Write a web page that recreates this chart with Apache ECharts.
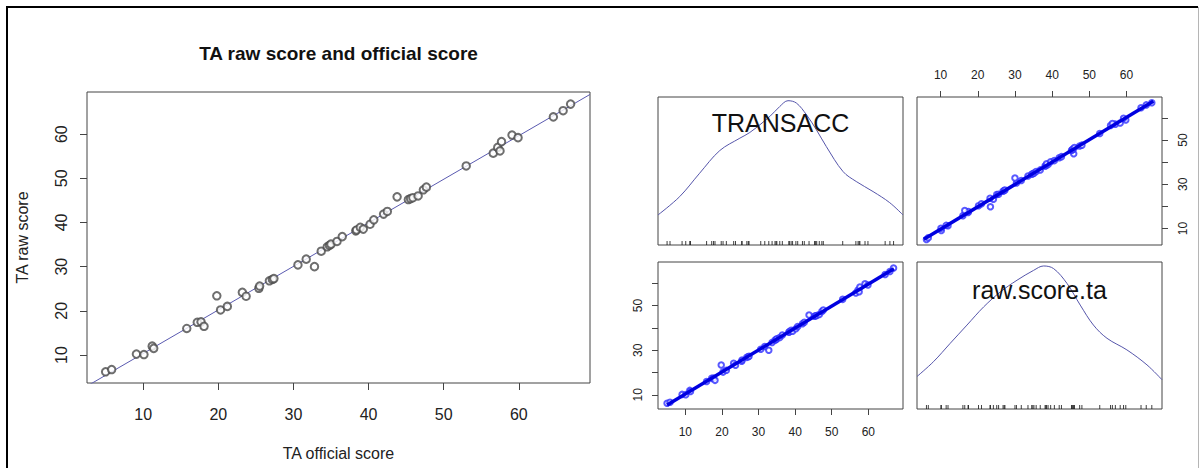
<!DOCTYPE html>
<html>
<head>
<meta charset="utf-8">
<title>TA raw score and official score</title>
<script src="https://cdn.jsdelivr.net/npm/echarts@6/dist/echarts.min.js"></script>
<style>
  html, body { margin: 0; padding: 0; background: #ffffff; }
  #main { width: 1200px; height: 468px; }
</style>
</head>
<body>
<div id="main"></div>
<script>
// Paired scores per student: official TA score and raw TA score
const officialScore = [
  5.0, 5.8, 9.1, 10.1, 11.2, 11.4, 15.8, 17.2, 17.7, 18.1,
  19.8, 20.3, 21.2, 23.2, 23.7, 25.4, 25.5, 26.8, 27.2, 27.4,
  30.6, 31.7, 32.8, 33.7, 34.5, 34.8, 35.0, 35.8, 36.5, 38.3,
  38.4, 38.9, 39.3, 40.2, 40.7, 42.0, 42.5, 43.8, 45.3, 45.6,
  45.9, 46.6, 47.3, 47.7, 53.0, 56.6, 57.2, 57.5, 57.7, 59.1,
  59.9, 64.6, 65.9, 66.9
];
const rawScore = [
  6.2, 6.7, 10.2, 10.1, 12.0, 11.5, 16.0, 17.4, 17.5, 16.5,
  23.4, 20.2, 21.0, 24.2, 23.3, 25.1, 25.6, 26.8, 27.1, 27.3,
  30.4, 31.7, 30.0, 33.5, 34.5, 34.8, 35.1, 35.7, 36.8, 38.1,
  38.3, 38.9, 38.5, 39.6, 40.6, 41.9, 42.5, 45.8, 45.2, 45.4,
  45.6, 46.0, 47.4, 48.0, 52.8, 55.7, 57.0, 56.2, 58.3, 59.8,
  59.2, 63.9, 65.3, 66.8
];

const tickValues = [10, 20, 30, 40, 50, 60];
const pairLabelValues = [10, 30, 50];
const officialRange = [2.52, 69.48];
const rawRange = [3.66, 69.54];

// Least-squares lines: raw on official, and official on raw
const rawFit = { intercept: 0.48, slope: 0.986 };
const officialFit = { intercept: -0.45, slope: 1.012 };

// Kernel density curves (relative height within the diagonal panels)
const transaccDensityX = [2.52, 8.45, 13.9, 19.4, 24.9, 27.6, 33.1, 35.8, 38.05, 40.35,
  43.1, 45.8, 48.5, 53.1, 56.7, 61.3, 65.85, 69.48];
const transaccDensity = [0.203, 0.327, 0.485, 0.638, 0.722, 0.760, 0.869, 0.936, 0.975, 0.959,
  0.880, 0.779, 0.666, 0.496, 0.429, 0.361, 0.286, 0.203];
const rawDensityX = [3.66, 8.1, 12.6, 17.1, 21.6, 26.1, 30.55, 35.0, 37.7, 40.4,
  44.0, 47.55, 51.1, 54.75, 60.1, 65.5, 69.54];
const rawDensity = [0.221, 0.322, 0.447, 0.571, 0.695, 0.797, 0.876, 0.943, 0.973, 0.955,
  0.854, 0.707, 0.571, 0.481, 0.402, 0.300, 0.199];

const FONT = '"Liberation Sans", Arial, Helvetica, sans-serif';
const BOX = '#444444';

const zip = (a, b) => a.map((v, i) => [v, b[i]]);
const fitLine = (fit, range) => range.map(x => [x, fit.intercept + fit.slope * x]);

function valueAxis(gridIndex, range, extra) {
  return Object.assign({
    type: 'value', gridIndex, min: range[0], max: range[1],
    splitLine: { show: false }, axisLine: { show: false },
    axisTick: { show: false }, axisLabel: { show: false }
  }, extra || {});
}
function ticks(len, values) {
  return { show: true, inside: false, length: len, customValues: values,
    lineStyle: { color: BOX, width: 1 } };
}
function labels(size, margin, values, rotate) {
  return { show: true, fontFamily: FONT, fontSize: size, color: '#222',
    margin, customValues: values, rotate: rotate || 0 };
}
const gridBox = { show: true, borderColor: BOX, borderWidth: 1, backgroundColor: 'transparent', containLabel: false };

const chart = echarts.init(document.getElementById('main'), null, { renderer: 'svg' });

chart.setOption({
  animation: false,
  backgroundColor: '#ffffff',
  grid: [
    Object.assign({ left: 87, top: 92, width: 503, height: 291 }, gridBox),
    Object.assign({ left: 658, top: 97, width: 245, height: 148 }, gridBox),
    Object.assign({ left: 917, top: 97, width: 245, height: 148 }, gridBox),
    Object.assign({ left: 658, top: 262, width: 245, height: 147 }, gridBox),
    Object.assign({ left: 917, top: 262, width: 245, height: 147 }, gridBox)
  ],
  xAxis: [
    valueAxis(0, officialRange, {
      position: 'bottom', axisTick: ticks(7, tickValues), axisLabel: labels(16, 23, tickValues),
      name: 'TA official score', nameLocation: 'middle', nameGap: 62,
      nameTextStyle: { fontFamily: FONT, fontSize: 16, color: '#222' }
    }),
    valueAxis(1, officialRange),
    valueAxis(2, rawRange, {
      position: 'top', axisTick: ticks(6, tickValues), axisLabel: labels(12, 16, tickValues)
    }),
    valueAxis(3, officialRange, {
      position: 'bottom', axisTick: ticks(6, tickValues), axisLabel: labels(12, 17, tickValues)
    }),
    valueAxis(4, rawRange)
  ],
  yAxis: [
    valueAxis(0, rawRange, {
      position: 'left', axisTick: ticks(7, tickValues), axisLabel: labels(16, 18, tickValues, 90),
      name: 'TA raw score', nameLocation: 'middle', nameGap: 57,
      nameTextStyle: { fontFamily: FONT, fontSize: 16, color: '#222' }
    }),
    valueAxis(1, [0, 1]),
    valueAxis(2, officialRange, {
      position: 'right', axisTick: ticks(6, tickValues), axisLabel: labels(12, 15, pairLabelValues, 90)
    }),
    valueAxis(3, rawRange, {
      position: 'left', axisTick: ticks(6, tickValues), axisLabel: labels(12, 14, pairLabelValues, 90)
    }),
    valueAxis(4, [0, 1])
  ],
  graphic: [
    { type: 'line', shape: { x1: 6, y1: 7, x2: 1198, y2: 7 }, style: { stroke: '#000', lineWidth: 2 } },
    { type: 'line', shape: { x1: 7, y1: 6, x2: 7, y2: 468 }, style: { stroke: '#000', lineWidth: 2 } },
    { type: 'line', shape: { x1: 1198.5, y1: 7, x2: 1198.5, y2: 468 }, style: { stroke: '#b5b5b5', lineWidth: 1 } },
    { type: 'text', x: 338.5, y: 53, style: { text: 'TA raw score and official score', font: 'bold 19px ' + FONT, fill: '#111', align: 'center', verticalAlign: 'middle' } },
    { type: 'text', x: 780.5, y: 123, style: { text: 'TRANSACC', font: '25px ' + FONT, fill: '#111', align: 'center', verticalAlign: 'middle' }, z: 10 },
    { type: 'text', x: 1039.5, y: 290, style: { text: 'raw.score.ta', font: '25px ' + FONT, fill: '#111', align: 'center', verticalAlign: 'middle' }, z: 10 }
  ],
  series: [
    // Main scatter with fitted line
    { type: 'scatter', xAxisIndex: 0, yAxisIndex: 0, data: zip(officialScore, rawScore),
      symbol: 'emptyCircle', symbolSize: 7.5, itemStyle: { color: '#4a4a4a', borderWidth: 0.9 }, z: 3 },
    { type: 'line', xAxisIndex: 0, yAxisIndex: 0, data: fitLine(rawFit, officialRange),
      symbol: 'none', clip: true, lineStyle: { color: '#5a5ab0', width: 1 }, z: 2 },

    // Diagonal: TRANSACC density and rug
    { type: 'line', xAxisIndex: 1, yAxisIndex: 1, data: zip(transaccDensityX, transaccDensity),
      symbol: 'none', smooth: 0.35, lineStyle: { color: '#5555aa', width: 1 } },
    { type: 'scatter', xAxisIndex: 1, yAxisIndex: 1, data: officialScore.map(v => [v, 0]),
      symbol: 'rect', symbolSize: [1, 4], symbolOffset: [0, -2], itemStyle: { color: '#111' } },

    // Upper panel: TRANSACC against raw.score.ta
    { type: 'scatter', xAxisIndex: 2, yAxisIndex: 2, data: zip(rawScore, officialScore),
      symbol: 'emptyCircle', symbolSize: 5.5, itemStyle: { color: '#3030ff', borderWidth: 1 } },
    { type: 'line', xAxisIndex: 2, yAxisIndex: 2, data: fitLine(officialFit, [5.5, 67.2]),
      symbol: 'none', lineStyle: { color: '#0000e0', width: 3.5 } },

    // Lower panel: raw.score.ta against TRANSACC
    { type: 'scatter', xAxisIndex: 3, yAxisIndex: 3, data: zip(officialScore, rawScore),
      symbol: 'emptyCircle', symbolSize: 5.5, itemStyle: { color: '#3030ff', borderWidth: 1 } },
    { type: 'line', xAxisIndex: 3, yAxisIndex: 3, data: fitLine(rawFit, [5.0, 67.0]),
      symbol: 'none', lineStyle: { color: '#0000e0', width: 3.5 } },

    // Diagonal: raw.score.ta density and rug
    { type: 'line', xAxisIndex: 4, yAxisIndex: 4, data: zip(rawDensityX, rawDensity),
      symbol: 'none', smooth: 0.35, lineStyle: { color: '#5555aa', width: 1 } },
    { type: 'scatter', xAxisIndex: 4, yAxisIndex: 4, data: rawScore.map(v => [v, 0]),
      symbol: 'rect', symbolSize: [1, 4], symbolOffset: [0, -2], itemStyle: { color: '#111' } }
  ]
});
</script>
</body>
</html>
